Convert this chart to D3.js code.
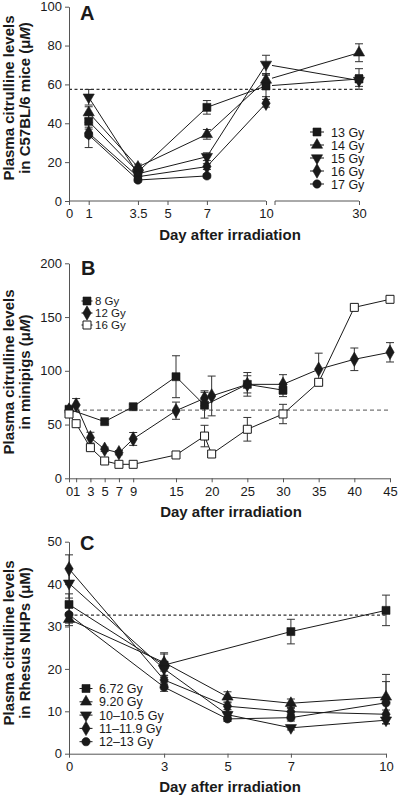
<!DOCTYPE html>
<html><head><meta charset="utf-8">
<script src="https://cdn.jsdelivr.net/npm/d3@7"></script>
<style>
body{margin:0;background:#fff;}
svg{display:block;font-family:"Liberation Sans",Arial,sans-serif;}
</style></head>
<body>
<svg id="chart" width="400" height="799"></svg>
<script>
// ---------- Panel A data (C57BL/6 mice) ----------
const daysA = [1, 3.5, 7, 10, 30];
const namesA = ["13 Gy", "14 Gy", "15 Gy", "16 Gy", "17 Gy"];
const a13 = [41, 15, 48.2, 59.2, 62.8];
const a14 = [45.5, 17.5, 34.3, 62.3, 76.3];
const a15 = [53.4, 14, 22.8, 70.3, 62];
const a16 = [35, 12.5, 17.7, 50.3, null];
const a17 = [34, 10.8, 12.9, null, null];
const eA13 = [3, 1.5, 3.5, 5.5, 5.3];
const eA14 = [3, 1.5, 2.5, 3, 4.6];
const eA15 = [4, 1.5, 2, 4.7, 3];
const eA16 = [2, 1, 1.5, 2, 0];
const eA17 = [6.5, 1, 1, 0, 0];
const ticksAx = [0, 1, 3.5, 5, 7, 10, 30];
const ticksAy = [0, 20, 40, 60, 80, 100];
const baselineA = 57.5;

// ---------- Panel B data (minipigs) ----------
const daysB = [0, 1, 3, 5, 7, 9, 15, 19, 20, 25, 30, 35, 40, 45];
const namesB = ["8 Gy", "12 Gy", "16 Gy"];
const b8  = [64.2, null, null, 52.7, null, 66.6, 94.5, 68, null, 87.4, 82, null, null, null];
const b12 = [63.5, 68.2, 37.8, 27, 23.8, 36.6, 62.9, 74.4, 76.6, 87.4, 87.4, 101.4, 110.7, 117.2];
const b16 = [59.8, 50.8, 28.5, 16.1, 13, 13, 21.7, 39.3, 22.6, 45.6, 59.8, 89.3, 159, 166.5];
const eB8  = [2, 0, 0, 2, 0, 2, 19.5, 12, 0, 8, 6, 0, 0, 0];
const eB12 = [2, 6, 5, 2, 2, 6, 8, 7, 18.5, 11, 9, 15, 10.5, 9];
const eB16 = [2, 2, 2, 1, 1, 1, 1, 10, 1, 11, 9, 2, 2, 2];
const ticksBx = [0, 1, 3, 5, 7, 9, 15, 20, 25, 30, 35, 40, 45];
const ticksBy = [0, 50, 100, 150, 200];
const baselineB = 63.5;

// ---------- Panel C data (Rhesus NHPs) ----------
const daysC = [0, 3, 5, 7, 10];
const namesC = ["6.72 Gy", "9.20 Gy", "10\u201310.5 Gy", "11\u201311.9 Gy", "12\u201313 Gy"];
const c672 = [35.2, 20.9, null, 28.8, 33.8];
const c920 = [31.7, 21.5, 13.4, 11.9, 13.4];
const c10  = [40.2, 20, 9.2, 6.1, 7.9];
const c11  = [43.6, 17.4, 11.2, 9.9, 9.3];
const c12  = [32.8, 15.7, 8.2, 8.5, 12.0];
const eC672 = [2.5, 2.9, 0, 2.9, 3.6];
const eC920 = [1.5, 2, 1.2, 1, 5.3];
const eC10  = [3.5, 1.5, 0.8, 0.5, 0.8];
const eC11  = [3.3, 1, 0.8, 0.8, 1];
const eC12  = [2, 1, 0.6, 0.8, 5];
const ticksCx = [0, 3, 5, 7, 10];
const ticksCy = [0, 10, 20, 30, 40, 50];
const baselineC = 32.7;

// ---------- helpers ----------
const svg = d3.select("#chart");
const INK = "#1a1a1a", AX = "#555";
const FONT_TICK = 13, FONT_TITLE = 15;

const sym = {
  square: d3.symbol().type(d3.symbolSquare).size(64),
  triangle: d3.symbol().type(d3.symbolTriangle).size(54),
  down: d3.symbol().type(d3.symbolTriangle).size(54),
  diamond: d3.symbol().type(d3.symbolDiamond).size(60),
  circle: d3.symbol().type(d3.symbolCircle).size(54)
};
function marker(g, kind, x, y, open) {
  g.append("path").attr("d", sym[kind]())
    .attr("transform", `translate(${x},${y})` + (kind === "down" ? " rotate(180)" : ""))
    .attr("fill", open ? "#fff" : INK).attr("stroke", INK).attr("stroke-width", open ? 1 : 0.6);
}

function build(series, days) {
  return series.map(s => ({
    ...s,
    pts: days.map((d, i) => ({d, v: s.vals[i], e: s.errs[i]})).filter(p => p.v != null)
  }));
}

function drawSeries(g, x, y, data, lineGen) {
  data.forEach(s => {
    g.append("path").datum(s.pts).attr("d", lineGen || d3.line().x(p => x(p.d)).y(p => y(p.v)))
      .attr("fill", "none").attr("stroke", INK).attr("stroke-width", 1);
  });
  data.forEach(s => {
    s.pts.filter(p => p.e > 0).forEach(p => {
      const cx = x(p.d), y1 = y(p.v + p.e), y2 = y(p.v - p.e);
      g.append("line").attr("x1", cx).attr("x2", cx).attr("y1", y1).attr("y2", y2)
        .attr("stroke", "#333").attr("stroke-width", 1);
      [y1, y2].forEach(yy => g.append("line").attr("x1", cx - 4).attr("x2", cx + 4)
        .attr("y1", yy).attr("y2", yy).attr("stroke", "#333").attr("stroke-width", 1));
    });
  });
  data.forEach(s => s.pts.forEach(p => marker(g, s.kind, x(p.d), y(p.v), s.open)));
}

function yTitle(x1, cy, line1, line2parts) {
  const t = svg.append("g").attr("transform", `translate(${x1},${cy}) rotate(-90)`)
    .attr("font-weight", "bold").attr("font-size", FONT_TITLE).attr("fill", INK).attr("text-anchor", "middle");
  t.append("text").attr("x", 0).attr("y", 0).text(line1);
  const l2 = t.append("text").attr("x", 0).attr("y", 16);
  line2parts.forEach(p => l2.append("tspan").attr("font-style", p.i ? "italic" : null).text(p.t));
}

function xTitle(cx, by) {
  svg.append("text").attr("x", cx).attr("y", by).attr("text-anchor", "middle")
    .attr("font-weight", "bold").attr("font-size", FONT_TITLE).attr("fill", INK).text("Day after irradiation");
}

function panelLabel(x0, by, s) {
  svg.append("text").attr("x", x0).attr("y", by).attr("font-weight", "bold").attr("font-size", 20)
    .attr("fill", INK).text(s);
}

function yAxis(g, y, ticks, x0) {
  const ax = g.append("g").attr("transform", `translate(${x0},0)`)
    .call(d3.axisLeft(y).tickValues(ticks).tickSize(4).tickPadding(3).tickSizeOuter(0));
  ax.select(".domain").attr("stroke", AX);
  ax.selectAll(".tick line").attr("stroke", AX);
  ax.selectAll("text").attr("font-size", FONT_TICK).attr("fill", INK).attr("font-family", "Liberation Sans, Arial, sans-serif");
}

function dashed(g, x1, x2, yy, color, dash) {
  g.append("line").attr("x1", x1).attr("x2", x2).attr("y1", yy).attr("y2", yy)
    .attr("stroke", color).attr("stroke-width", 1.2).attr("stroke-dasharray", dash);
}

function legend(g, x0, y0, dy, data, textX, fs, half) {
  data.forEach((s, i) => {
    const yy = y0 + i * dy;
    g.append("line").attr("x1", x0 - half).attr("x2", x0 + half).attr("y1", yy).attr("y2", yy)
      .attr("stroke", INK).attr("stroke-width", 1);
    marker(g, s.kind, x0, yy, s.open);
    g.append("text").attr("x", textX).attr("y", yy + fs * 0.36).attr("font-size", fs).attr("fill", INK).text(s.name);
  });
}

// ================= Panel A =================
{
  const g = svg.append("g");
  const x = d3.scaleLinear().domain([0, 10, 30]).range([69, 266, 359]);
  const y = d3.scaleLinear().domain([0, 100]).range([201, 6.7]);
  const seriesA = build([
    {name: namesA[0], kind: "square", vals: a13, errs: eA13},
    {name: namesA[1], kind: "triangle", vals: a14, errs: eA14},
    {name: namesA[2], kind: "down", vals: a15, errs: eA15},
    {name: namesA[3], kind: "diamond", vals: a16, errs: eA16},
    {name: namesA[4], kind: "circle", vals: a17, errs: eA17}
  ], daysA);
  dashed(g, 69, 362, y(baselineA), "#333", "3,2.5");
  yAxis(g, y, ticksAy, 69);
  const xa = g.append("g").attr("transform", "translate(0,201)")
    .call(d3.axisBottom(x).tickValues(ticksAx).tickFormat(d3.format("")).tickSize(4).tickPadding(4));
  xa.select(".domain").remove();
  xa.selectAll(".tick line").attr("stroke", AX);
  xa.selectAll("text").attr("font-size", FONT_TICK).attr("fill", INK).attr("font-family", "Liberation Sans, Arial, sans-serif");
  g.append("line").attr("x1", 69).attr("x2", 266).attr("y1", 201).attr("y2", 201).attr("stroke", AX);
  g.append("line").attr("x1", 275).attr("x2", 359).attr("y1", 201).attr("y2", 201).attr("stroke", AX);
  g.append("line").attr("x1", 275).attr("x2", 275).attr("y1", 201).attr("y2", 205).attr("stroke", AX);
  const brk = 272;
  const lineA = pts => {
    let dstr = "";
    for (let i = 0; i < pts.length; i++) {
      const px = x(pts[i].d), py = y(pts[i].v);
      if (i === 0) { dstr += `M${px},${py}`; continue; }
      const qx = x(pts[i - 1].d), qy = y(pts[i - 1].v);
      if (qx < brk && px > brk) {
        const t = (brk - qx) / (px - qx);
        dstr += `M${brk},${qy + t * (py - qy)}L${px},${py}`;
      } else dstr += `L${px},${py}`;
    }
    return dstr;
  };
  drawSeries(g, x, y, seriesA, lineA);
  legend(g, 317, 132, 13, seriesA, 331, 12.5, 7);
  panelLabel(80, 20, "A");
  xTitle(230, 240);
  yTitle(14, 98, "Plasma citrulline levels", [{t: "in C57BL/6 mice (\u03bc"}, {t: "M", i: true}, {t: ")"}]);
}

// ================= Panel B =================
{
  const g = svg.append("g");
  const x = d3.scaleLinear().domain([0, 45]).range([69, 390]);
  const y = d3.scaleLinear().domain([0, 200]).range([478.3, 263.3]);
  const seriesB = build([
    {name: namesB[0], kind: "square", vals: b8, errs: eB8},
    {name: namesB[1], kind: "diamond", vals: b12, errs: eB12},
    {name: namesB[2], kind: "square", open: true, vals: b16, errs: eB16}
  ], daysB);
  dashed(g, 69, 390, y(baselineB), "#777", "4,3");
  yAxis(g, y, ticksBy, 69);
  const xa = g.append("g").attr("transform", "translate(0,478.3)")
    .call(d3.axisBottom(x).tickValues(ticksBx).tickSize(4).tickPadding(4).tickSizeOuter(0));
  xa.select(".domain").attr("stroke", AX);
  xa.selectAll(".tick line").attr("stroke", AX);
  xa.selectAll("text").attr("font-size", FONT_TICK).attr("fill", INK).attr("font-family", "Liberation Sans, Arial, sans-serif");
  drawSeries(g, x, y, seriesB);
  legend(g, 87, 301, 12, seriesB, 95, 11.5, 5.5);
  panelLabel(81, 275, "B");
  xTitle(231, 517);
  yTitle(14, 372, "Plasma citrulline levels", [{t: "in minipigs (\u03bc"}, {t: "M", i: true}, {t: ")"}]);
}

// ================= Panel C =================
{
  const g = svg.append("g");
  const x = d3.scaleLinear().domain([0, 10]).range([69, 386]);
  const y = d3.scaleLinear().domain([0, 50]).range([753.7, 541.7]);
  const seriesC = build([
    {name: namesC[0], kind: "square", vals: c672, errs: eC672},
    {name: namesC[1], kind: "triangle", vals: c920, errs: eC920},
    {name: namesC[2], kind: "down", vals: c10, errs: eC10},
    {name: namesC[3], kind: "diamond", vals: c11, errs: eC11},
    {name: namesC[4], kind: "circle", vals: c12, errs: eC12}
  ], daysC);
  dashed(g, 69, 388, y(baselineC), "#333", "3,2.5");
  yAxis(g, y, ticksCy, 69);
  const xa = g.append("g").attr("transform", "translate(0,753.7)")
    .call(d3.axisBottom(x).tickValues(ticksCx).tickSize(4).tickPadding(4).tickSizeOuter(0));
  xa.select(".domain").attr("stroke", AX);
  xa.selectAll(".tick line").attr("stroke", AX);
  xa.selectAll("text").attr("font-size", FONT_TICK).attr("fill", INK).attr("font-family", "Liberation Sans, Arial, sans-serif");
  drawSeries(g, x, y, seriesC);
  legend(g, 86, 688.5, 13.3, seriesC, 99, 12.5, 6.5);
  panelLabel(80, 550, "C");
  xTitle(230, 792);
  yTitle(14, 643, "Plasma citrulline levels", [{t: "in Rhesus NHPs (\u03bcM)"}]);
}
</script>
</body></html>
